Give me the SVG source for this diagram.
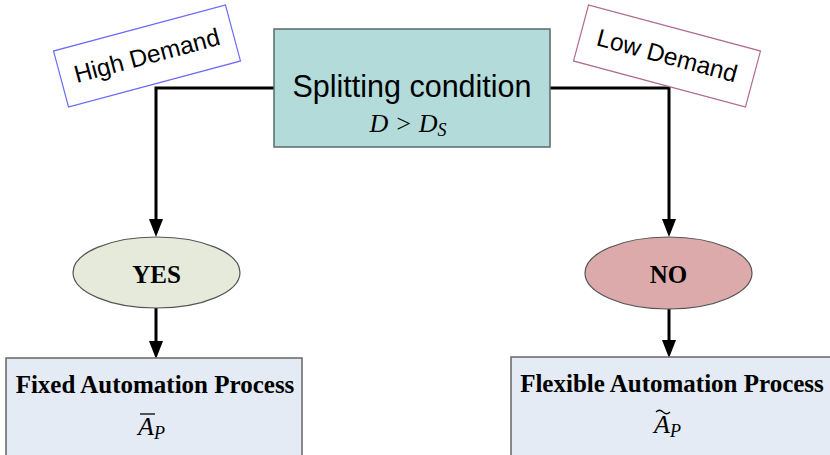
<svg xmlns="http://www.w3.org/2000/svg" width="830" height="455" viewBox="0 0 830 455">
<defs>
<style>
.lbl{font-family:"Liberation Sans",Arial,sans-serif;font-size:24.5px;fill:#000;text-anchor:middle}
.main{font-family:"Liberation Sans",Arial,sans-serif;font-size:30.5px;fill:#000;text-anchor:middle}
.math{font-family:"Liberation Serif","Times New Roman",serif;font-style:italic;font-size:26px;fill:#000}
.bold{font-family:"Liberation Serif","Times New Roman",serif;font-weight:bold;font-size:25px;fill:#000;text-anchor:middle}
.conn{fill:none;stroke:#000;stroke-width:3}
</style>
</defs>
<rect width="830" height="455" fill="#fff"/>
<g id="connectors">
<path class="conn" d="M274,88 H156 V219"/>
<path class="conn" d="M550,88 H669 V219"/>
<path class="conn" d="M156,308 V345"/>
<path class="conn" d="M669,309 V345"/>
<path d="M149,219 L163,219 L156,237 Z" fill="#000"/>
<path d="M662,219 L676,219 L669,237 Z" fill="#000"/>
<path d="M149,341 L163,341 L156,359 Z" fill="#000"/>
<path d="M662,340 L676,340 L669,358 Z" fill="#000"/>
</g>
<g id="high-demand" transform="translate(147,56) rotate(-15)">
<rect x="-89" y="-29" width="178" height="58" fill="#fff" stroke="#6a6aff" stroke-width="1.2"/>
<text class="lbl" x="0" y="8">High Demand</text>
</g>
<g id="low-demand" transform="translate(667,56) rotate(15)">
<rect x="-89" y="-29" width="178" height="58" fill="#fff" stroke="#b06a90" stroke-width="1.2"/>
<text class="lbl" x="0" y="8">Low Demand</text>
</g>
<g id="splitting">
<rect x="274" y="29" width="276" height="118" fill="#b3dbd9" stroke="#5a6a6a" stroke-width="1.5"/>
<text class="main" x="412" y="97">Splitting condition</text>
<text class="math" x="408" y="132" text-anchor="middle">D &gt; D<tspan font-size="18" dy="4">S</tspan></text>
</g>
<g id="yes">
<ellipse cx="156.5" cy="272.5" rx="83.5" ry="35.5" fill="#e6eadb" stroke="#555" stroke-width="1.2"/>
<text class="bold" x="156.5" y="283" font-size="23.5">YES</text>
</g>
<g id="no">
<ellipse cx="668.5" cy="273" rx="83.5" ry="36" fill="#dcaaaa" stroke="#555" stroke-width="1.2"/>
<text class="bold" x="668.5" y="283" font-size="23.5">NO</text>
</g>
<g id="fixed">
<rect x="6" y="358" width="296" height="100" fill="#e4ebf4" stroke="#666" stroke-width="1.5"/>
<text class="bold" x="155" y="393">Fixed Automation Process</text>
<line x1="140" y1="414" x2="155" y2="414" stroke="#000" stroke-width="1.3"/>
<text class="math" x="138" y="435">A<tspan font-size="18" dy="4">P</tspan></text>
</g>
<g id="flexible">
<rect x="511" y="357" width="330" height="100" fill="#e4ebf4" stroke="#666" stroke-width="1.5"/>
<text class="bold" x="672" y="392">Flexible Automation Process</text>
<text class="math" x="654" y="433">A<tspan font-size="18" dy="4">P</tspan></text>
<path d="M656,412 q3.5,-3.5 7,0 t7,0" fill="none" stroke="#000" stroke-width="1.2"/>
</g>
</svg>
